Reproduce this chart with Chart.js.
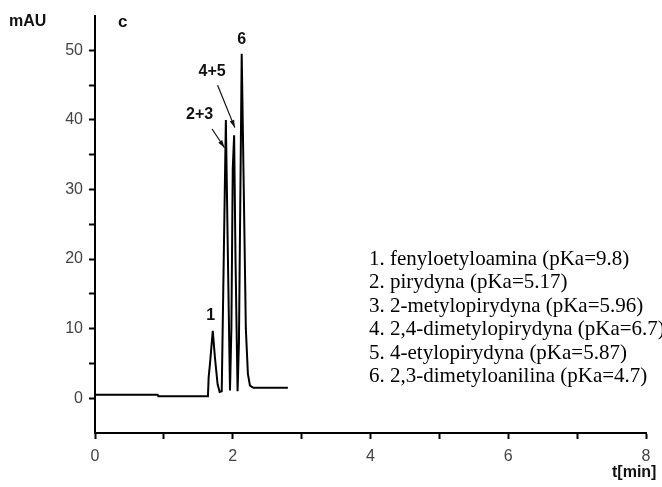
<!DOCTYPE html>
<html>
<head>
<meta charset="utf-8">
<script src="https://cdn.jsdelivr.net/npm/chart.js@4/dist/chart.umd.min.js"></script>
<style>
  html, body { margin: 0; padding: 0; background: #fff; }
  #wrap { width: 662px; height: 487px; }
</style>
</head>
<body>
<div id="wrap"><canvas id="chart" width="662" height="487"></canvas></div>
<script>
// chromatogram trace (time in min, absorbance in mAU)
const times = [0, 0.91, 0.92, 1.64, 1.65, 1.67, 1.71, 1.74, 1.78, 1.81, 1.84, 1.86, 1.90, 1.93, 1.96, 1.98, 2.00, 2.02, 2.04, 2.07, 2.09, 2.13, 2.16, 2.19, 2.22, 2.25, 2.30, 2.80];
const absorbance = [0.5, 0.5, 0.3, 0.3, 3.0, 5.0, 9.7, 6.0, 2.0, 0.9, 1.0, 14, 40, 20, 1.1, 10, 33, 37.8, 20, 1.0, 8, 49.5, 30, 10, 3.5, 1.8, 1.5, 1.5];

const xTicks = [0, 2, 4, 6, 8];
const yTicks = [0, 10, 20, 30, 40, 50];

// peak labels
const peakLabelT = [1.68, 1.52, 1.70, 2.13];
const peakLabelV = [11.9, 40.7, 46.9, 51.6];
const peakLabelText = ['1', '2+3', '4+5', '6'];

// arrows pointing at the merged peaks
const arrowFromT = [1.70, 1.78];
const arrowFromV = [38.7, 45.0];
const arrowToT = [1.88, 2.03];
const arrowToV = [36.0, 38.9];

const legendLines = [
  '1. fenyloetyloamina (pKa=9.8)',
  '2. pirydyna (pKa=5.17)',
  '3. 2-metylopirydyna (pKa=5.96)',
  '4. 2,4-dimetylopirydyna (pKa=6.7)',
  '5. 4-etylopirydyna (pKa=5.87)',
  '6. 2,3-dimetyloanilina (pKa=4.7)'
];

const points = times.map((t, i) => ({ x: t, y: absorbance[i] }));

const annotate = {
  id: 'annotate',
  afterDraw(chart) {
    const ctx = chart.ctx;
    const xs = chart.scales.x;
    const ys = chart.scales.y;
    ctx.save();
    ctx.fillStyle = '#111';
    ctx.font = 'bold 16px "Liberation Sans", Arial, sans-serif';
    ctx.textAlign = 'center';
    ctx.textBaseline = 'middle';
    peakLabelText.forEach((txt, i) => {
      ctx.fillText(txt, xs.getPixelForValue(peakLabelT[i]), ys.getPixelForValue(peakLabelV[i]));
    });

    ctx.strokeStyle = '#111';
    ctx.lineWidth = 1.2;
    arrowFromT.forEach((t, i) => {
      const x1 = xs.getPixelForValue(t), y1 = ys.getPixelForValue(arrowFromV[i]);
      const x2 = xs.getPixelForValue(arrowToT[i]), y2 = ys.getPixelForValue(arrowToV[i]);
      ctx.beginPath();
      ctx.moveTo(x1, y1);
      ctx.lineTo(x2, y2);
      ctx.stroke();
      const a = Math.atan2(y2 - y1, x2 - x1);
      ctx.beginPath();
      ctx.moveTo(x2, y2);
      ctx.lineTo(x2 - 8 * Math.cos(a - 0.3), y2 - 8 * Math.sin(a - 0.3));
      ctx.lineTo(x2 - 8 * Math.cos(a + 0.3), y2 - 8 * Math.sin(a + 0.3));
      ctx.closePath();
      ctx.fill();
    });

    // axis titles
    ctx.textAlign = 'left';
    ctx.font = 'bold 16px "Liberation Sans", Arial, sans-serif';
    ctx.fillText('mAU', 9, 22);
    ctx.font = 'bold 17px "Liberation Sans", Arial, sans-serif';
    ctx.fillText('c', 118, 22);
    ctx.font = 'bold 16px "Liberation Sans", Arial, sans-serif';
    ctx.fillText('t[min]', 612, 473);

    // compound list
    ctx.font = '21px "Liberation Serif", "Times New Roman", serif';
    ctx.fillStyle = '#000';
    legendLines.forEach((line, i) => {
      ctx.fillText(line, 369, 259 + i * 23.5);
    });
    ctx.restore();
  }
};

new Chart(document.getElementById('chart'), {
  type: 'scatter',
  data: {
    datasets: [{
      data: points,
      showLine: true,
      borderColor: '#000',
      borderWidth: 2,
      pointRadius: 0,
      tension: 0
    }]
  },
  options: {
    responsive: false,
    animation: false,
    layout: { padding: { top: 13, right: 16, left: 0, bottom: 0 } },
    plugins: { legend: { display: false }, tooltip: { enabled: false } },
    scales: {
      x: {
        type: 'linear',
        min: 0,
        max: 8,
        afterFit(scale) { scale.height = 54; },
        afterBuildTicks(scale) {
          scale.ticks = [0, 1, 2, 3, 4, 5, 6, 7, 8].map(v => ({ value: v }));
        },
        ticks: {
          color: '#444',
          font: { family: '"Liberation Sans", Arial, sans-serif', size: 16 },
          padding: 8,
          maxRotation: 0,
          callback: v => xTicks.includes(v) ? String(v) : ''
        },
        grid: { drawOnChartArea: false, color: '#000', tickLength: 6, tickWidth: 2 },
        border: { color: '#000', width: 2 }
      },
      y: {
        min: -5,
        max: 55,
        afterFit(scale) { scale.width = 95; },
        afterBuildTicks(scale) {
          scale.ticks = [0, 5, 10, 15, 20, 25, 30, 35, 40, 45, 50].map(v => ({ value: v }));
        },
        ticks: {
          color: '#444',
          font: { family: '"Liberation Sans", Arial, sans-serif', size: 16 },
          padding: 6,
          callback: v => yTicks.includes(v) ? String(v) : ''
        },
        grid: { drawOnChartArea: false, color: '#000', tickLength: 6, tickWidth: 2 },
        border: { color: '#000', width: 2 }
      }
    }
  },
  plugins: [annotate]
});
</script>
</body>
</html>
